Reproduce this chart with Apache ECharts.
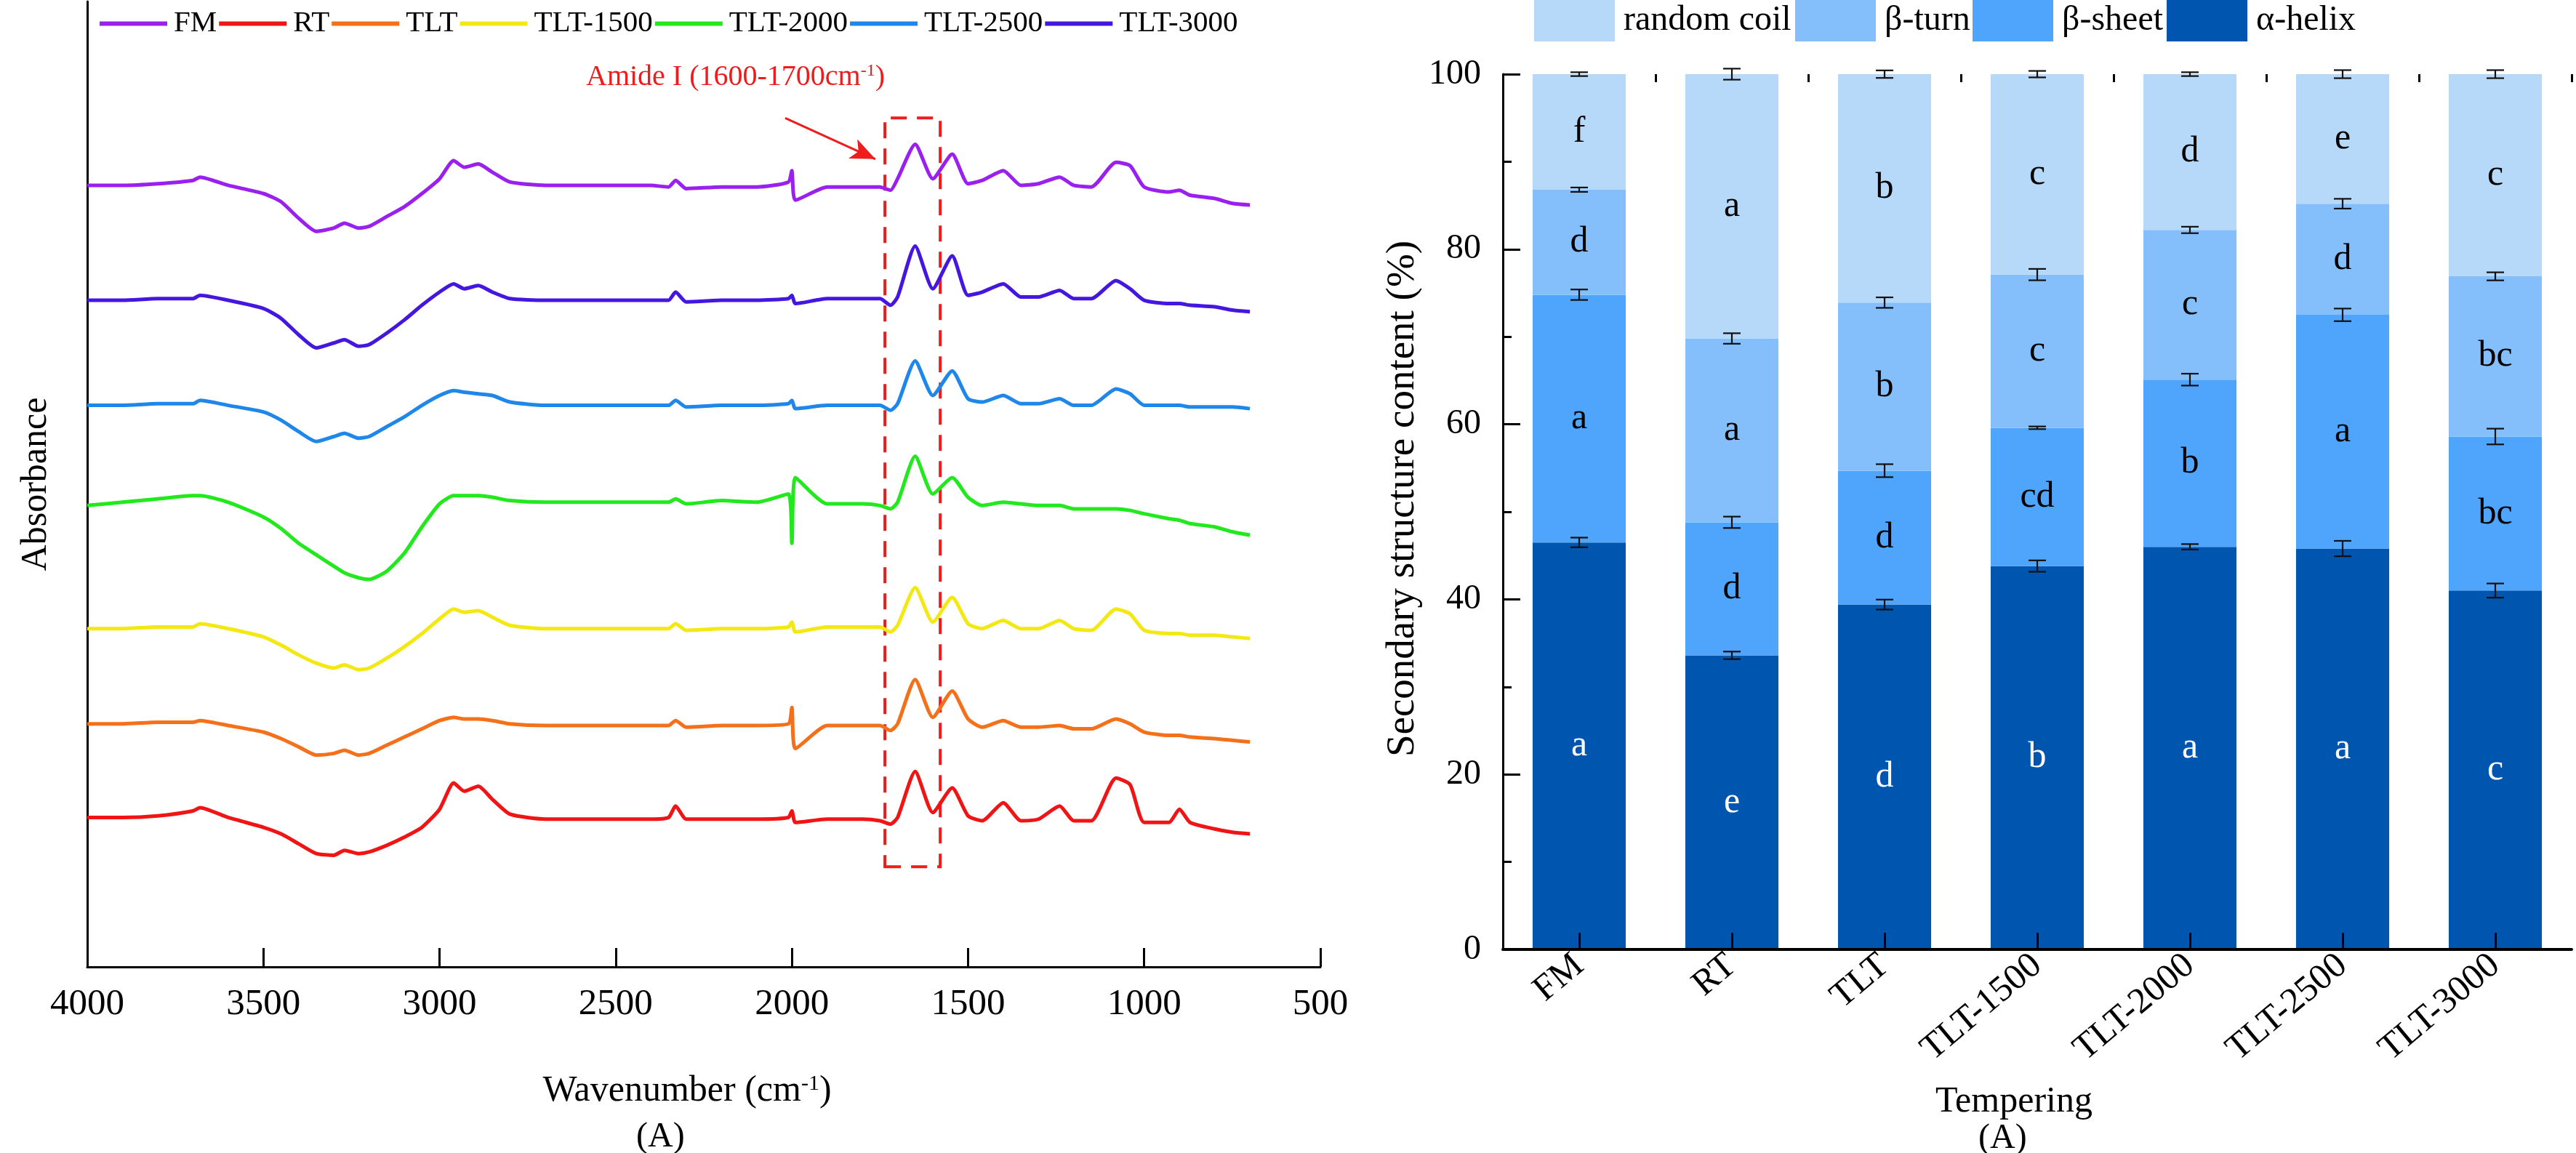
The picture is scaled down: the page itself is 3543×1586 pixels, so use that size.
<!DOCTYPE html>
<html><head><meta charset="utf-8">
<script src="https://cdn.jsdelivr.net/npm/echarts@6/dist/echarts.min.js"></script>
<style>html,body{margin:0;padding:0;background:#fff}#c{width:3543px;height:1586px}</style>
</head><body><div id="c"></div>
<script>
// ---------- FTIR spectra (panel A, left) ----------
const wavenumbers = [4000,3900,3800,3700,3680,3600,3500,3450,3400,3350,3300,3270,3230,3200,3150,3100,3050,3000,2960,2930,2890,2850,2800,2700,2500,2400,2350,2330,2300,2200,2100,2010,2000,1990,1900,1800,1750,1720,1700,1650,1600,1545,1500,1460,1400,1350,1300,1240,1200,1150,1080,1040,1000,930,900,870,800,750,700];
const spectrumNames = ['FM','RT','TLT','TLT-1500','TLT-2000','TLT-2500','TLT-3000'];
const absFM = [476,476,477,479,481,476,471,466,456,448,450,453,450,451,457,463,471,480,491,487,489,484,478,476,476,476,475,479,474,475,475,478,485,467,475,475,475,473,480,501,480,495,477,479,485,476,477,481,476,475,490,488,475,472,473,470,468,465,464];
const absRT = [91,91,92,95,97,91,85,81,75,69,68,71,69,70,74,79,85,96,112,107,110,102,93,90,90,90,91,98,90,90,90,91,95,88,90,90,89,87,91,119,94,109,92,89,100,89,90,98,89,89,115,111,88,88,96,88,84,82,81];
const absTLT = [148,148,149,149,150,147,143,139,134,129,130,132,129,130,135,140,145,150,152,151,151,150,148,147,147,147,147,150,146,147,147,148,158,133,147,147,147,144,148,175,152,168,151,146,150,146,146,147,145,145,151,148,143,141,141,140,139,138,137];
const absTLT1500 = [206,206,207,207,209,206,201,196,190,185,182,184,181,182,188,195,203,212,218,216,217,213,208,206,206,206,206,209,205,206,206,207,210,204,207,207,207,204,208,231,210,225,209,206,211,206,206,211,206,205,218,215,205,203,203,202,202,201,200];
const absTLT2000 = [281,283,285,287,287,283,274,267,258,251,244,240,237,236,241,252,268,282,287,287,287,286,284,283,283,283,283,285,282,284,283,288,258,298,282,282,281,279,283,311,288,298,286,281,283,282,281,281,279,279,279,278,276,273,272,270,268,265,263];
const absTLT2500 = [342,342,343,343,345,342,338,333,326,320,323,325,322,323,329,335,342,348,351,350,349,348,344,342,342,342,342,345,341,342,342,343,345,340,342,342,342,339,343,369,348,363,346,344,348,343,343,346,342,342,352,349,342,342,342,341,341,341,340];
const absTLT3000 = [406,406,407,407,409,406,401,395,385,377,380,382,378,379,386,394,403,411,416,413,415,411,407,406,406,406,406,411,405,406,406,407,409,404,407,407,407,403,408,439,413,433,409,411,416,408,408,412,407,407,418,413,406,404,404,403,402,400,399];
const spectrumColors = ['#9A20F0','#F01414','#F5701A','#F4E812','#22E81E','#1F86EA','#4416E0'];
const amideBox = [1736, 1579];       // wavenumber range of the dashed box
const amideBoxY = [61, 517];         // absorbance range of the dashed box
const arrowFrom = [2019, 517];
const arrowTo = [1763, 492];

// ---------- Secondary structure (right) ----------
const categories = ['FM','RT','TLT','TLT-1500','TLT-2000','TLT-2500','TLT-3000'];
const alphaHelix = [46.5,33.6,39.4,43.8,46.0,45.8,41.0];
const betaSheet  = [28.3,15.2,15.3,15.8,19.1,26.7,17.6];
const betaTurn   = [12.0,21.0,19.2,17.5,17.1,12.7,18.3];
const randomCoil = [13.2,30.2,26.1,22.9,17.8,14.8,23.1];
const errHelix = [0.55,0.43,0.57,0.65,0.31,0.88,0.81];
const errSheet = [0.60,0.65,0.74,0.15,0.68,0.72,0.90];
const errTurn  = [0.25,0.60,0.60,0.65,0.37,0.56,0.46];
const errCoil  = [0.22,0.63,0.43,0.37,0.22,0.46,0.46];
const letHelix = ['a','e','d','b','a','a','c'];
const letSheet = ['a','d','d','cd','b','a','bc'];
const letTurn  = ['d','a','b','c','c','d','bc'];
const letCoil  = ['f','a','b','c','d','e','c'];
const structNames = ['random coil','β-turn','β-sheet','α-helix'];
const structColors = ['#B6D9FA','#85BFFB','#4FA5FC','#0055AE'];

const FONT = 'Liberation Serif';
const chart = echarts.init(document.getElementById('c'));

const spectra = [absFM,absRT,absTLT,absTLT1500,absTLT2000,absTLT2500,absTLT3000];
const lineSeries = spectrumNames.map((n,k)=>{
  const s = {
    name:n, type:'line', xAxisIndex:0, yAxisIndex:0,
    data: wavenumbers.map((w,i)=>[w, spectra[k][i]]),
    symbol:'none', smooth:0.2,
    lineStyle:{width:5,color:spectrumColors[k]}, itemStyle:{color:spectrumColors[k]},
    z: 3
  };
  if (k===0) {
    s.markArea = {silent:true, itemStyle:{color:'rgba(0,0,0,0)', borderColor:'#EE1C1C', borderWidth:4, borderType:[22,14]},
      data:[[{coord:[amideBox[0], amideBoxY[0]]},{coord:[amideBox[1], amideBoxY[1]]}]]};
    s.markLine = {silent:true, symbol:['none','arrow'], symbolSize:[22,34], label:{show:false},
      lineStyle:{color:'#EE1C1C', width:3, type:'solid'},
      data:[[{coord:arrowFrom},{coord:arrowTo}]]};
  }
  return s;
});

const stacks = [
  {name:'α-helix', vals:alphaHelix, err:errHelix, let:letHelix, color:structColors[3], txt:'#fff'},
  {name:'β-sheet', vals:betaSheet, err:errSheet, let:letSheet, color:structColors[2], txt:'#000'},
  {name:'β-turn', vals:betaTurn, err:errTurn, let:letTurn, color:structColors[1], txt:'#000'},
  {name:'random coil', vals:randomCoil, err:errCoil, let:letCoil, color:structColors[0], txt:'#000'}
];
const barSeries = stacks.map(s=>({
  name:s.name, type:'bar', stack:'ss', xAxisIndex:1, yAxisIndex:1, barWidth:'61%',
  data:s.vals, itemStyle:{color:s.color}, z:2,
  label:{show:true, position:'inside', color:s.txt, fontFamily:FONT, fontSize:50,
    formatter:p=>s.let[p.dataIndex]}
}));
// error bar data: [category index, cumulative top, error]
const errData = [];
const cum = categories.map(()=>0);
stacks.forEach(s=>{
  s.vals.forEach((v,i)=>{ cum[i]+=v; errData.push([i, cum[i], s.err[i]]); });
});
const errSeries = {
  type:'custom', xAxisIndex:1, yAxisIndex:1, z:4, clip:false, silent:true,
  data: errData,
  renderItem:(params, api)=>{
    const x = api.value(0), y = api.value(1), e = api.value(2);
    const t = api.coord([x, y+e]), b = api.coord([x, y-e]);
    const hw = 12, st = {stroke:'#111', lineWidth:2.2};
    return {type:'group', children:[
      {type:'line', shape:{x1:t[0],y1:t[1],x2:b[0],y2:b[1]}, style:st},
      {type:'line', shape:{x1:t[0]-hw,y1:t[1],x2:t[0]+hw,y2:t[1]}, style:st},
      {type:'line', shape:{x1:b[0]-hw,y1:b[1],x2:b[0]+hw,y2:b[1]}, style:st}
    ]};
  }
};

const supRich = (fs)=>({sup:{fontSize:Math.round(fs*0.6), fontFamily:FONT, verticalAlign:'top', lineHeight:Math.round(fs*0.6), color:'#000'}});

const swatchLeft = [2110, 2469, 2713, 2980];
const rightLegends = structNames.map((n,i)=>({
  data:[n], left:swatchLeft[i], top:0, padding:0, icon:'rect', itemWidth:111, itemHeight:57,
  selectedMode:false, textStyle:{fontFamily:FONT, fontSize:48, color:'#000', padding:[0,0,0,7]}
}));

const option = {
  backgroundColor:'#fff',
  animation:false,
  textStyle:{fontFamily:FONT},
  grid:[
    {left:120, right:1727, top:2, bottom:256},
    {left:2067, right:6, top:102, bottom:280}
  ],
  legend:[
    {data:spectrumNames, left:137, top:12, padding:0, icon:'rect', itemWidth:93, itemHeight:6, itemGap:3,
     selectedMode:false, textStyle:{fontFamily:FONT, fontSize:41, color:'#000', padding:[0,0,0,4]}},
    ...rightLegends
  ],
  xAxis:[
    {gridIndex:0, type:'value', min:500, max:4000, interval:500, inverse:true,
     axisLine:{show:true, lineStyle:{color:'#000', width:3}},
     axisTick:{show:true, inside:true, length:26, lineStyle:{color:'#000', width:3}},
     axisLabel:{fontFamily:FONT, fontSize:51, color:'#000', margin:26, formatter:v=>String(v)},
     splitLine:{show:false},
     name:'Wavenumber (cm{sup|-1})', nameLocation:'middle', nameGap:146,
     nameTextStyle:{fontFamily:FONT, fontSize:50, color:'#000', padding:[0,46,0,0], rich:supRich(50)}},
    {gridIndex:1, type:'category', data:categories, z:5,
     axisLine:{show:true, lineStyle:{color:'#000', width:4}},
     axisTick:{show:true, inside:true, alignWithLabel:true, length:23, lineStyle:{color:'#000', width:3}},
     axisLabel:{interval:0, rotate:40, fontFamily:FONT, fontSize:50, color:'#000', margin:16},
     name:'Tempering', nameLocation:'middle', nameGap:185,
     nameTextStyle:{fontFamily:FONT, fontSize:50, color:'#000', padding:[0,64,0,0]}},
    {gridIndex:1, type:'category', data:categories, z:5,
     axisLine:{show:false}, axisLabel:{show:false},
     axisTick:{show:true, inside:true, length:11, lineStyle:{color:'#000', width:3}}}
  ],
  yAxis:[
    {gridIndex:0, type:'value', min:0, max:588,
     axisLine:{show:true, lineStyle:{color:'#000', width:3}},
     axisTick:{show:false}, axisLabel:{show:false}, splitLine:{show:false},
     name:'Absorbance', nameLocation:'middle', nameGap:45,
     nameTextStyle:{fontFamily:FONT, fontSize:50, color:'#000'}},
    {gridIndex:1, type:'value', min:0, max:100, interval:20, z:5,
     axisLine:{show:true, lineStyle:{color:'#000', width:3}},
     axisTick:{show:true, inside:true, length:24, lineStyle:{color:'#000', width:3}},
     minorTick:{show:true, splitNumber:2, length:12, lineStyle:{color:'#000', width:3}},
     axisLabel:{fontFamily:FONT, fontSize:48, color:'#000', margin:30},
     splitLine:{show:false},
     name:'Secondary structure content (%)', nameLocation:'middle', nameGap:110,
     nameTextStyle:{fontFamily:FONT, fontSize:55, color:'#000', padding:[0,0,0,36]}}
  ],
  graphic:[
    {type:'text', left:806, top:86, z:10, style:{text:'Amide I (1600-1700cm{sup|-1})', fontFamily:FONT, fontSize:40, fill:'#EE1C1C',
      rich:{sup:{fontSize:24, fontFamily:FONT, verticalAlign:'top', lineHeight:24, fill:'#EE1C1C', color:'#EE1C1C'}}}},
    {type:'text', left:875, top:1540, style:{text:'(A)', fontFamily:FONT, fontSize:48, fill:'#000'}},
    {type:'text', left:2721, top:1542, style:{text:'(A)', fontFamily:FONT, fontSize:48, fill:'#000'}}
  ],
  series:[...lineSeries, ...barSeries, errSeries]
};
chart.setOption(option);
</script>
</body></html>
